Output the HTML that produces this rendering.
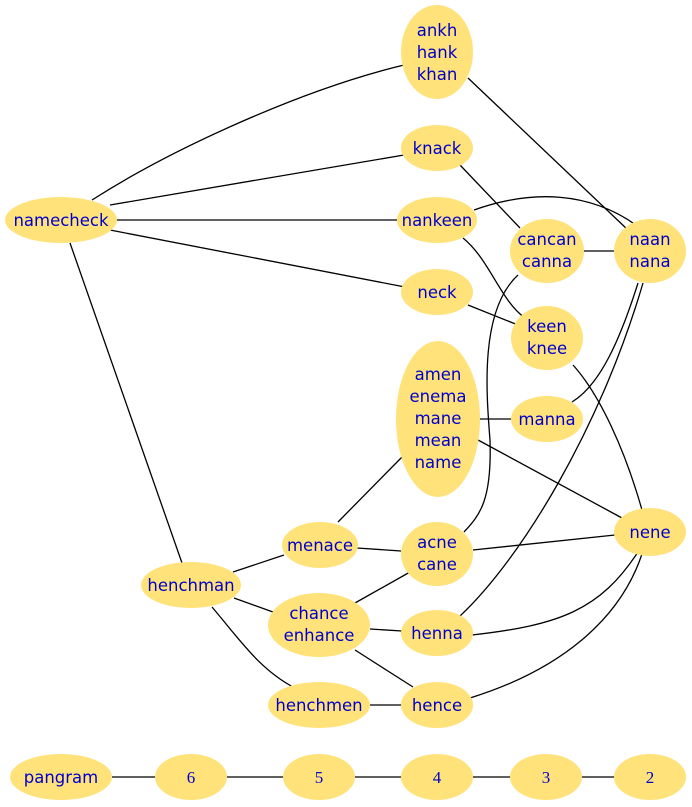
<!DOCTYPE html>
<html><head><meta charset="utf-8"><style>
html,body{margin:0;padding:0;background:#fff;}
svg{display:block;}
text{font-family:"DejaVu Sans","Liberation Sans",sans-serif;font-size:16.5px;fill:#0000cc;text-anchor:middle;}
.n{font-family:"Liberation Serif",serif;font-size:17px;}
ellipse{fill:#ffe27a;}
path,line{stroke:#000;stroke-width:1.3;fill:none;}
</style></head><body>
<svg width="692" height="807" viewBox="0 0 692 807" xmlns="http://www.w3.org/2000/svg">
<path d="M92,200 C170,150 300,90 404,65"/>
<path d="M110,205 L404,155"/>
<path d="M116,220 L398,220"/>
<path d="M110,230 L405,287"/>
<path d="M70,243 L182,563"/>
<path d="M468,78 L628,230"/>
<path d="M460,165 L520,228"/>
<path d="M474,210 C530,190 590,190 640,228"/>
<path d="M463,238 C490,260 500,300 525,318"/>
<path d="M468,305 L518,325"/>
<path d="M583,251 L615,251"/>
<path d="M573,365 C600,395 625,450 642,510"/>
<path d="M572,402 C600,385 620,340 638,283"/>
<path d="M480,419 L511,419"/>
<path d="M478,440 L622,518"/>
<path d="M338,522 L404,455"/>
<path d="M357,548 L401,551"/>
<path d="M464,532 C480,515 492,500 490,440 C486,390 480,310 518,275"/>
<path d="M473,550 L615,535"/>
<path d="M233,572 L284,555"/>
<path d="M234,598 L273,612"/>
<path d="M212,607 C240,640 260,670 295,688"/>
<path d="M355,603 L410,572"/>
<path d="M370,629 L402,631"/>
<path d="M355,650 L413,687"/>
<path d="M460,616 C520,560 600,430 643,283"/>
<path d="M472,635 C560,625 600,610 638,552"/>
<path d="M370,705 L402,705"/>
<path d="M470,698 C560,670 620,620 642,554"/>
<line x1="112" y1="777" x2="156" y2="777"/>
<line x1="226" y1="777" x2="284" y2="777"/>
<line x1="354" y1="777" x2="402" y2="777"/>
<line x1="472" y1="777" x2="511" y2="777"/>
<line x1="581" y1="777" x2="615" y2="777"/>
<ellipse cx="437" cy="52" rx="36" ry="47"/>
<text x="437" y="36">ankh</text><text x="437" y="58">hank</text><text x="437" y="80">khan</text>
<ellipse cx="437" cy="148" rx="36" ry="23"/><text x="437" y="154">knack</text>
<ellipse cx="61" cy="220" rx="56" ry="23"/><text x="61" y="226">namecheck</text>
<ellipse cx="437" cy="220" rx="40" ry="23"/><text x="437" y="226">nankeen</text>
<ellipse cx="547" cy="251" rx="37" ry="32"/><text x="547" y="245">cancan</text><text x="547" y="267">canna</text>
<ellipse cx="650" cy="251" rx="36" ry="32"/><text x="650" y="245">naan</text><text x="650" y="267">nana</text>
<ellipse cx="437" cy="292" rx="36" ry="23"/><text x="437" y="298">neck</text>
<ellipse cx="547" cy="338" rx="36" ry="32"/><text x="547" y="332">keen</text><text x="547" y="354">knee</text>
<ellipse cx="438" cy="419" rx="42" ry="78"/>
<text x="438" y="380">amen</text><text x="438" y="402">enema</text><text x="438" y="424">mane</text><text x="438" y="446">mean</text><text x="438" y="468">name</text>
<ellipse cx="547" cy="419" rx="36" ry="23"/><text x="547" y="425">manna</text>
<ellipse cx="650" cy="532" rx="36" ry="24"/><text x="650" y="538">nene</text>
<ellipse cx="320" cy="545" rx="38" ry="23"/><text x="320" y="551">menace</text>
<ellipse cx="437" cy="554" rx="36" ry="32"/><text x="437" y="548">acne</text><text x="437" y="570">cane</text>
<ellipse cx="191" cy="585" rx="50" ry="23"/><text x="191" y="591">henchman</text>
<ellipse cx="319" cy="625" rx="51" ry="32"/><text x="319" y="619">chance</text><text x="319" y="641">enhance</text>
<ellipse cx="437" cy="633" rx="36" ry="23"/><text x="437" y="639">henna</text>
<ellipse cx="319" cy="705" rx="51" ry="23"/><text x="319" y="711">henchmen</text>
<ellipse cx="437" cy="705" rx="36" ry="23"/><text x="437" y="711">hence</text>
<ellipse cx="61" cy="777" rx="51" ry="23"/><text x="61" y="783">pangram</text>
<ellipse cx="191" cy="777" rx="36" ry="23"/><text class="n" x="191" y="783">6</text>
<ellipse cx="319" cy="777" rx="36" ry="23"/><text class="n" x="319" y="783">5</text>
<ellipse cx="437" cy="777" rx="36" ry="23"/><text class="n" x="437" y="783">4</text>
<ellipse cx="546" cy="777" rx="36" ry="23"/><text class="n" x="546" y="783">3</text>
<ellipse cx="650" cy="777" rx="36" ry="23"/><text class="n" x="650" y="783">2</text>
</svg>
</body></html>
